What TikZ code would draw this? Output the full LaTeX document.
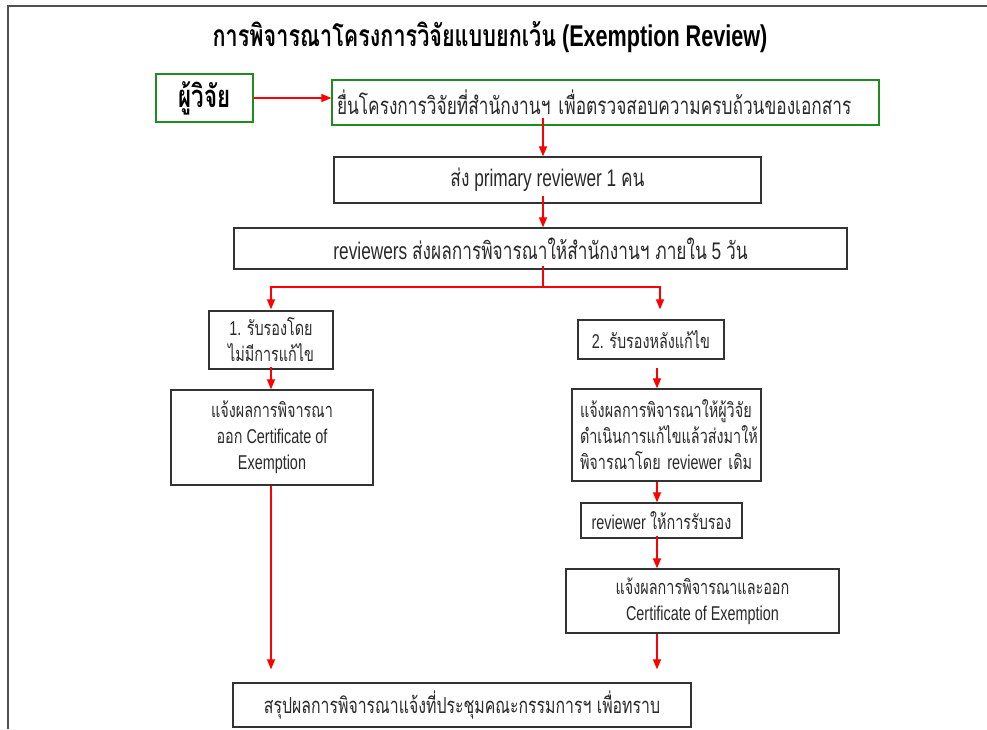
\documentclass[tikz,border=0pt]{standalone}
\usepackage{fontspec}
\setmainfont[FakeStretch=0.72]{Liberation Sans}
\newfontfamily\thai[Script=Thai,FakeStretch=0.72]{Loma}
\newcommand{\T}[1]{{\thai #1}}
\usetikzlibrary{arrows.meta,calc}
\definecolor{boxline}{HTML}{333333}
\definecolor{textc}{HTML}{2A2A2A}
\definecolor{gline}{HTML}{1E8C1E}
\definecolor{framec}{HTML}{505050}
\begin{document}
\begin{tikzpicture}[x=1pt,y=-1pt,
  box/.style={draw=boxline, line width=1.3pt, inner sep=0pt, text=textc,
    font=\fontsize{20}{26}\selectfont, align=center},
  bigtext/.style={font=\fontsize{24}{28}\selectfont},
  gbox/.style={box, draw=gline},
  arr/.style={draw=red, line width=1.2pt, -{Triangle[length=10pt,width=8pt]}},
  plain/.style={draw=red, line width=1.2pt}]
\useasboundingbox (0,0) rectangle (987,729);
\fill[white] (0,0) rectangle (987,729);
\draw[framec, line width=2pt] (987,6) -- (8,6) -- (8,729);

\node[font=\fontsize{30}{34}\selectfont\bfseries] (title) at (490,37)
  {\T{การพิจารณาโครงการวิจัยแบบยกเว้น} (Exemption Review)};

\node[gbox, minimum width=97pt, minimum height=48pt,
  font=\fontsize{31}{32}\selectfont\bfseries, text=black] (res) at (204.5,98) {\T{ผู้วิจัย}};
\node[gbox, bigtext, minimum width=547pt, minimum height=45pt, text width=537pt, align=left]
  (sub) at (605.5,102.5) {\T{ยื่นโครงการวิจัยที่สำนักงานฯ เพื่อตรวจสอบความครบถ้วนของเอกสาร}};
\node[box, bigtext, minimum width=427pt, minimum height=46pt] (pri) at (547.5,180)
  {\T{ส่ง} primary reviewer 1 \T{คน}};
\node[box, bigtext, minimum width=613pt, minimum height=41pt] (revs) at (540.5,248.5)
  {reviewers \T{ส่งผลการพิจารณาให้สำนักงานฯ ภายใน} 5 \T{วัน}};
\node[box, minimum width=124pt, minimum height=58pt] (b1) at (271,340)
  {1. \T{รับรองโดย}\\\T{ไม่มีการแก้ไข}};
\node[box, minimum width=146pt, minimum height=39pt] (b2) at (651,339.5)
  {2. \T{รับรองหลังแก้ไข}};
\node[box, minimum width=202pt, minimum height=95pt] (lc) at (272,437.5)
  {\T{แจ้งผลการพิจารณา}\\\T{ออก} Certificate of\\Exemption};
\node[box, minimum width=189pt, minimum height=92pt, text width=173pt, align=left]
  (rc1) at (666.5,435)
  {\T{แจ้งผลการพิจารณาให้ผู้วิจัย}\\\T{ดำเนินการแก้ไขแล้วส่งมาให้}\\\T{พิจารณาโดย} reviewer \T{เดิม}};
\node[box, minimum width=161pt, minimum height=35pt] (rr) at (661.5,520.5)
  {reviewer \T{ให้การรับรอง}};
\node[box, minimum width=273pt, minimum height=64pt] (rc2) at (702.5,601)
  {\T{แจ้งผลการพิจารณาและออก}\\Certificate of Exemption};
\node[box, font=\fontsize{22}{26}\selectfont, minimum width=458pt, minimum height=44pt] (fin) at (462,705)
  {\T{สรุปผลการพิจารณาแจ้งที่ประชุมคณะกรรมการฯ เพื่อทราบ}};

\coordinate (cx) at (543,0);
\coordinate (lx) at (271,0);
\coordinate (rx) at (657,0);
\coordinate (jx) at (660,0);
\coordinate (j) at (543,287);

\draw[arr] (res.east) -- (res.east -| sub.west);
\draw[arr] ($(sub.south -| cx)+(0,-8)$) -- (pri.north -| cx);
\draw[arr] ($(pri.south -| cx)+(0,-8)$) -- (revs.north -| cx);
\draw[plain] ($(revs.south -| cx)+(0,-4)$) -- (j);
\draw[arr] (j) -| ($(b1.north -| lx)+(0,-1)$);
\draw[arr] (j) -| ($(b2.north -| jx)+(0,-10)$);
\draw[arr] ($(b1.south -| lx)+(0,-3)$) -- (lc.north -| lx);
\draw[arr] (lc.south -| lx) -- ($(fin.north -| lx)+(0,-13)$);
\draw[arr] ($(b2.south -| rx)+(0,8)$) -- (rc1.north -| rx);
\draw[arr] (rc1.south -| rx) -- (rr.north -| rx);
\draw[arr] ($(rr.south -| rx)+(0,-3)$) -- (rc2.north -| rx);
\draw[arr] (rc2.south -| rx) -- ($(fin.north -| rx)+(0,-13)$);
\end{tikzpicture}
\end{document}
